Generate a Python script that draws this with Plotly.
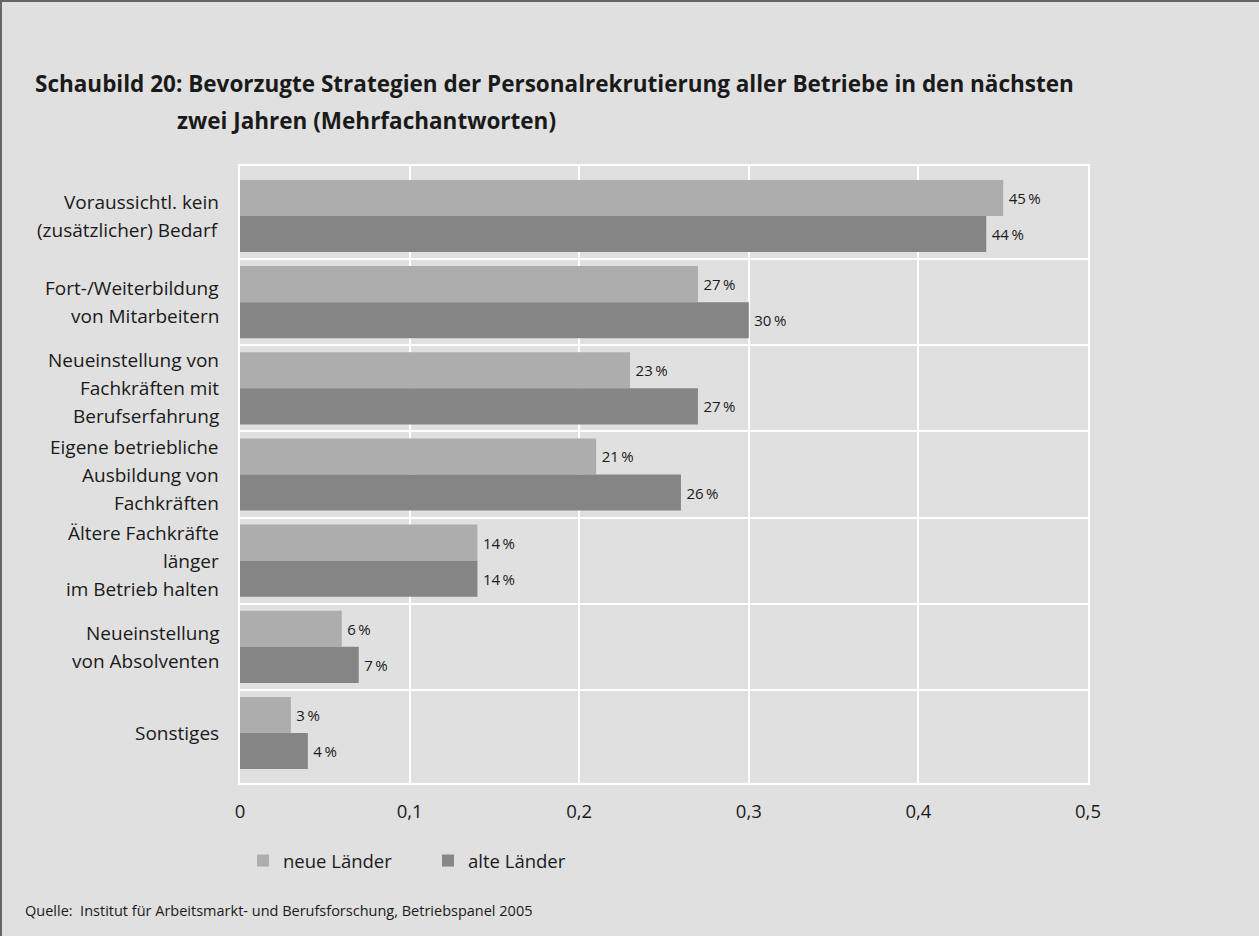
import plotly.graph_objects as go

# --- data -------------------------------------------------------------
categories = [
    "Voraussichtl. kein\n(zusätzlicher) Bedarf",
    "Fort-/Weiterbildung\nvon Mitarbeitern",
    "Neueinstellung von\nFachkräften mit\nBerufserfahrung",
    "Eigene betriebliche\nAusbildung von\nFachkräften",
    "Ältere Fachkräfte\nlänger\nim Betrieb halten",
    "Neueinstellung\nvon Absolventen",
    "Sonstiges",
]
neue_laender = [45, 27, 23, 21, 14, 6, 3]
alte_laender = [44, 30, 27, 26, 14, 7, 4]
series_names = ["neue Länder", "alte Länder"]
x_tickvals = [0, 0.1, 0.2, 0.3, 0.4, 0.5]
x_ticktext = ["0", "0,1", "0,2", "0,3", "0,4", "0,5"]

title_line1 = "Schaubild 20: Bevorzugte Strategien der Personalrekrutierung aller Betriebe in den nächsten"
title_line2 = "zwei Jahren (Mehrfachantworten)"
source_text = "Quelle:  Institut für Arbeitsmarkt- und Berufsforschung, Betriebspanel 2005"

# --- layout geometry ----------------------------------------------------
FIG_W, FIG_H = 1259, 936
M_L, M_R, M_T, M_B = 240, 171, 166, 153
PLOT_W = FIG_W - M_L - M_R
PLOT_H = FIG_H - M_T - M_B


def px_x(px):
    return (px - M_L) / PLOT_W


def px_y(py):
    return 1 - (py - M_T) / PLOT_H


FONT = "Open Sans, Noto Sans, sans-serif"
BG = "#e0e0e0"
LIGHT = "#adadad"
DARK = "#858585"
TEXT = "#1a1a1a"

y_pos = list(range(len(categories)))


def pct(v):
    return f"\u2009{v}\u2009%"


fig = go.Figure()
for name, vals, color in [(series_names[0], neue_laender, LIGHT),
                          (series_names[1], alte_laender, DARK)]:
    fig.add_trace(go.Bar(
        name=name,
        y=y_pos,
        x=[v / 100 for v in vals],
        orientation="h",
        marker=dict(color=color, line=dict(width=0)),
        text=[pct(v) for v in vals],
        textposition="outside",
        cliponaxis=False,
        textfont=dict(family=FONT, size=15, color=TEXT),
        hoverinfo="skip",
    ))

# invisible helper trace that carries the horizontal category-boundary grid
fig.add_trace(go.Scatter(x=[None], y=[None], yaxis="y2", showlegend=False,
                         hoverinfo="skip"))

# category labels, one annotation per text line
annotations = []
LINE_PITCH = 28
for i, label in enumerate(categories):
    lines = label.split("\n")
    n = len(lines)
    for k, line in enumerate(lines):
        annotations.append(dict(
            x=0, xref="paper", xanchor="right", xshift=-19,
            y=i, yref="y", yanchor="middle",
            yshift=-(k - (n - 1) / 2) * LINE_PITCH,
            text=line, showarrow=False,
            font=dict(family=FONT, size=19, color=TEXT),
        ))

annotations += [
    dict(x=px_x(33), y=px_y(83), xref="paper", yref="paper",
         xanchor="left", yanchor="middle", showarrow=False,
         text=f"<b>{title_line1}</b>",
         font=dict(family=FONT, size=22.5, color=TEXT)),
    dict(x=px_x(175), y=px_y(120), xref="paper", yref="paper",
         xanchor="left", yanchor="middle", showarrow=False,
         text=f"<b>{title_line2}</b>",
         font=dict(family=FONT, size=22.5, color=TEXT)),
    dict(x=px_x(23), y=px_y(911), xref="paper", yref="paper",
         xanchor="left", yanchor="middle", showarrow=False,
         text=source_text,
         font=dict(family=FONT, size=14.5, color=TEXT)),
]

# figure frame on the top and left edges
shapes = [
    dict(type="line", xref="paper", yref="paper",
         x0=px_x(0), x1=px_x(FIG_W), y0=px_y(1), y1=px_y(1),
         line=dict(color="#666666", width=2)),
    dict(type="line", xref="paper", yref="paper",
         x0=px_x(1), x1=px_x(1), y0=px_y(0), y1=px_y(FIG_H),
         line=dict(color="#666666", width=2)),
]

y_range = [len(categories) - 1 + 0.58, -0.58]

fig.update_layout(
    width=FIG_W, height=FIG_H,
    margin=dict(l=M_L, r=M_R, t=M_T, b=M_B),
    paper_bgcolor=BG, plot_bgcolor=BG,
    barmode="group", bargap=0.163, bargroupgap=0,
    font=dict(family=FONT, size=18, color=TEXT),
    separators=",.",
    showlegend=True,
    legend=dict(
        orientation="h", x=px_x(243), y=px_y(842),
        xanchor="left", yanchor="top",
        font=dict(family=FONT, size=18.5, color=TEXT),
        bgcolor="rgba(0,0,0,0)",
        entrywidth=140, entrywidthmode="pixels",
        traceorder="normal",
    ),
    xaxis=dict(
        range=[0, 0.5], tickvals=x_tickvals, ticktext=x_ticktext,
        showgrid=True, gridcolor="white", gridwidth=1.5,
        showline=True, linecolor="white", linewidth=1.5, mirror=True,
        zeroline=False,
        ticks="outside", ticklen=11, tickcolor="rgba(0,0,0,0)",
        tickfont=dict(family=FONT, size=18.5, color=TEXT),
        fixedrange=True,
    ),
    yaxis=dict(
        range=y_range, showticklabels=False, showgrid=False,
        zeroline=False, showline=True, linecolor="white", linewidth=1.5,
        mirror=True, ticks="", fixedrange=True,
    ),
    yaxis2=dict(
        range=y_range, overlaying="y", side="left",
        tickvals=[i + 0.5 for i in y_pos[:-1]],
        showticklabels=False, showgrid=True, gridcolor="white", gridwidth=1.5,
        zeroline=False, ticks="", fixedrange=True,
    ),
    annotations=annotations,
    shapes=shapes,
)

fig.write_html("out.html", config={"displayModeBar": False})
